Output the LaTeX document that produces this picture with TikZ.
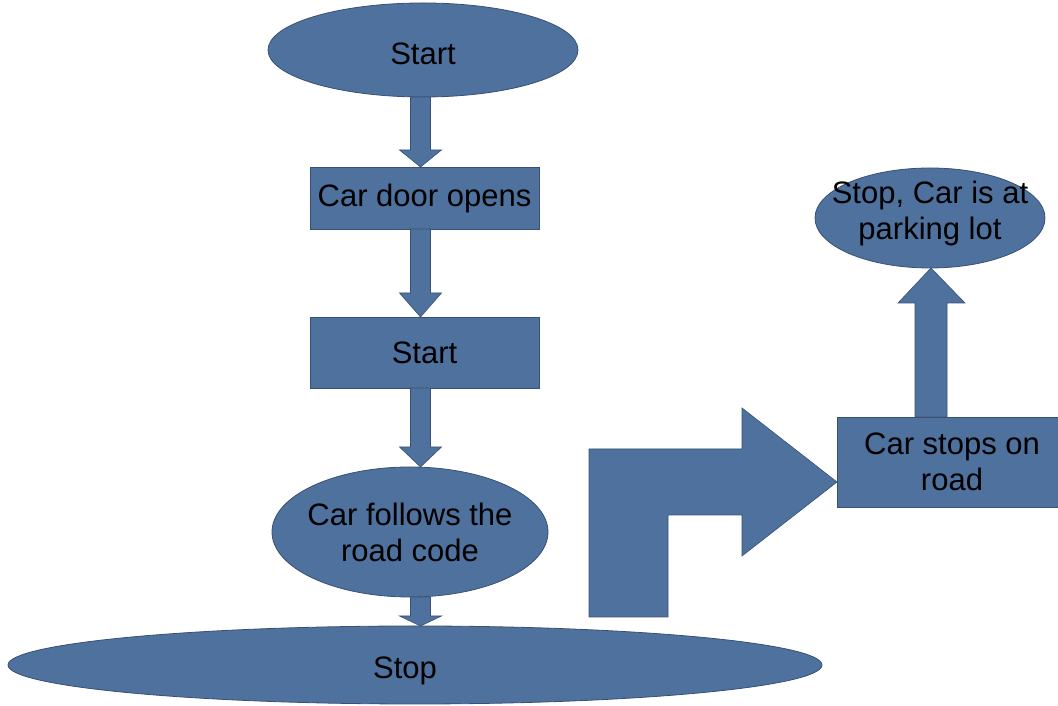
\documentclass[tikz,border=0pt]{standalone}
\usepackage{fontspec}
\setmainfont{Liberation Sans}
\usetikzlibrary{shapes.geometric,calc}
\definecolor{boxfill}{RGB}{79,113,158}
\definecolor{boxline}{RGB}{56,80,116}
\tikzset{
  shapebase/.style={fill=boxfill, draw=boxline, line width=0.8pt, inner sep=0pt, outer sep=0pt},
  stepbox/.style={shapebase, rectangle, font=\fontsize{31}{36}\selectfont, align=center},
  oval/.style={shapebase, ellipse},
  txt/.style={font=\fontsize{31}{36}\selectfont, align=center, inner sep=0pt, text=black},
  blockarrow/.style={fill=boxfill, draw=boxline, line width=0.6pt, line join=miter},
}
\newcommand\blockdown[4]{% from, to, column, head length
  \path[blockarrow] let \p1=(#3|-#1.south), \p2=(#3|-#2.north) in
    (\x1-10pt,\y1) -- (\x1-10pt,\y2+#4) -- (\x1-21pt,\y2+#4) -- (\x2,\y2)
    -- (\x1+21pt,\y2+#4) -- (\x1+10pt,\y2+#4) -- (\x1+10pt,\y1) -- cycle;}
\begin{document}
\begin{tikzpicture}[x=1pt,y=1pt]
\clip (0,0) rectangle (1058,706);
\fill[white] (0,0) rectangle (1058,706);

% left column
\node[oval, minimum width=310pt, minimum height=94pt,
      label={[txt, yshift=-4pt]center:Start}] (start) at (423,656) {};
\node[stepbox, minimum width=229pt, minimum height=62pt] (door) at (424.5,508) {Car door opens};
\node[stepbox, minimum width=229pt, minimum height=71pt] (start2) at (424.5,353.5) {Start};
\node[oval, minimum width=276pt, minimum height=130pt,
      label={[txt]center:{Car follows the\\road code}}] (follow) at (410,174) {};
\node[oval, minimum width=814pt, minimum height=78pt,
      label={[txt, xshift=-10pt, yshift=-6pt]center:Stop}] (stop) at (415,41) {};

% right side
\node[stepbox, minimum width=230pt, minimum height=90pt] (road) at (952,244) {Car stops on\\road};
\node[oval, minimum width=230pt, minimum height=100pt,
      label={[txt, yshift=5pt]center:{Stop, Car is at\\parking lot}}] (park) at (930,488) {};

\coordinate (col) at (420.5,0);
\coordinate (colR) at (931,0);

% down arrows
\blockdown{start}{door}{col}{17pt}
\blockdown{door}{start2}{col}{24pt}
\blockdown{start2}{follow}{col}{20pt}
\blockdown{follow}{stop}{col}{10pt}

% up arrow
\path[blockarrow] let \p1=(colR|-road.north), \p2=(colR|-park.south) in
  (\x1-16pt,\y1) -- (\x1-16pt,\y2-35pt) -- (\x1-33pt,\y2-35pt) -- (\x2,\y2)
  -- (\x1+34pt,\y2-35pt) -- (\x1+16pt,\y2-35pt) -- (\x1+16pt,\y1) -- cycle;

% bent arrow
\coordinate (bendtip) at ([yshift=-20pt]road.west);
\path[blockarrow] (589,89) -- (589,257) -- (742,257) -- (742,298) -- (bendtip)
  -- (742,150) -- (742,191) -- (668,191) -- (668,89) -- cycle;
\end{tikzpicture}
\end{document}
